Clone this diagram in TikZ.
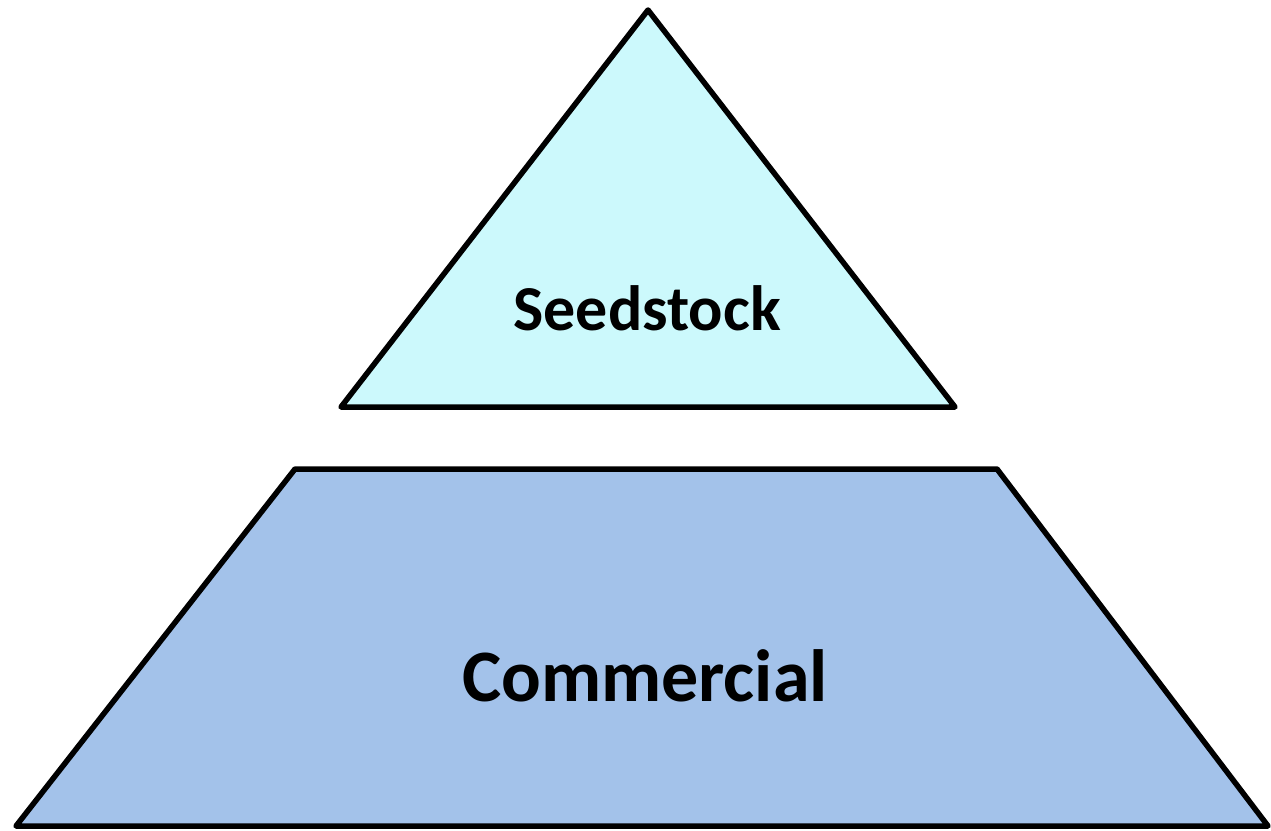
\documentclass[tikz,border=0pt]{standalone}
\usepackage{fontspec}
\setmainfont{Carlito}
\definecolor{seedfill}{HTML}{CCF9FC}
\definecolor{commfill}{HTML}{A3C2EA}
\begin{document}
\begin{tikzpicture}[x=1pt,y=-1pt,
  shapeline/.style={draw=black,line width=5.5pt,line join=round},
  lbl/.style={font=\bfseries\fontsize{64}{76}\selectfont,inner sep=0pt}]
\useasboundingbox (0,0) rectangle (1271,830);
\draw[shapeline,fill=seedfill] (648,10) -- (341,407) -- (955,407) -- cycle;
\draw[shapeline,fill=commfill] (295,469) -- (997,469) -- (1268,826) -- (16,826) -- cycle;
\node[lbl,anchor=base] (seed) at (647,330) {Seedstock};
\node[lbl,anchor=base,font=\bfseries\fontsize{74}{88}\selectfont] (comm) at (645,701) {Commercial};
\end{tikzpicture}
\end{document}
